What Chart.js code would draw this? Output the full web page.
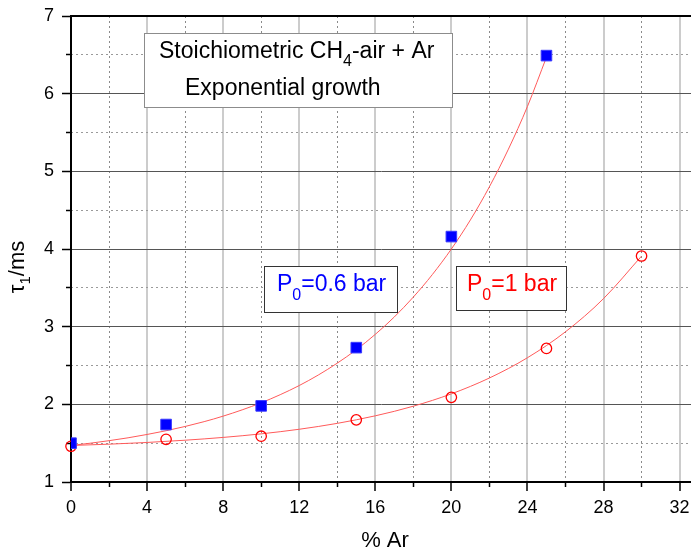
<!DOCTYPE html>
<html><head><meta charset="utf-8">
<script src="https://cdn.jsdelivr.net/npm/chart.js@4"></script>
<style>html,body{margin:0;padding:0;background:#fff}#wrap{width:691px;height:553px}</style>
</head><body><div id="wrap"><canvas id="c" width="691" height="553"></canvas></div>
<script>
// ---- data ----
const arPct06 = [0, 5, 10, 15, 20, 25];
const tau06 = [1.50, 1.74, 1.98, 2.73, 4.16, 6.49];
const arPct1 = [0, 5, 10, 15, 20, 25, 30];
const tau1 = [1.46, 1.55, 1.59, 1.80, 2.09, 2.72, 3.91];
// exponential-growth fit curves
const fitX06 = [0,1,2,3,4,5,6,7,8,9,10,11,12,13,14,15,16,17,18,19,20,21,22,23,24,25];
const fitY06 = [1.470,1.499,1.532,1.569,1.612,1.660,1.715,1.777,1.848,1.929,2.020,2.124,2.242,2.377,2.530,2.703,2.901,3.125,3.381,3.671,4.000,4.374,4.801,5.286,5.835,6.470];
const fitX1 = [0,2,4,6,8,10,12,14,16,18,20,22,24,26,28,30];
const fitY1 = [1.470,1.487,1.509,1.538,1.574,1.620,1.679,1.755,1.852,1.976,2.135,2.339,2.600,2.934,3.361,3.909];
// tick labels
const xTicks = [0, 4, 8, 12, 16, 20, 24, 28, 32];
const yTicks = [1, 2, 3, 4, 5, 6, 7];

const FONT = "'Liberation Sans', Arial, sans-serif";
const pts = (xs, ys) => xs.map((x, i) => ({x: x, y: ys[i]}));
const TR = 'rgba(0,0,0,0)';

function drawSubText(ctx, parts, x, y, size, subSize, subOff, color) {
  ctx.fillStyle = color;
  ctx.textBaseline = 'middle';
  ctx.textAlign = 'left';
  let cx = x;
  for (const [t, sub] of parts) {
    ctx.font = (sub ? subSize : size) + 'px ' + FONT;
    ctx.fillText(t, cx, sub ? y + subOff : y);
    cx += ctx.measureText(t).width;
  }
  return cx - x;
}
function measureParts(ctx, parts, size, subSize) {
  let w = 0;
  for (const [t, sub] of parts) { ctx.font = (sub ? subSize : size) + 'px ' + FONT; w += ctx.measureText(t).width; }
  return w;
}
const noPadH = s => { s.paddingLeft = 0; s.paddingRight = 0; };
const noPadV = s => { s.paddingTop = 0; s.paddingBottom = 0; };

const textPlugin = {
  id: 'texts',
  afterDraw(chart) {
    const ctx = chart.ctx;
    ctx.save();
    ctx.fillStyle = '#fff';
    ctx.fillRect(144.5, 33.5, 308, 74);
    ctx.strokeStyle = '#8c8c8c'; ctx.lineWidth = 1;
    ctx.strokeRect(144.5, 33.5, 308, 74);
    drawSubText(ctx, [['Stoichiometric CH', false], ['4', true], ['-air + Ar', false]], 159, 52, 23, 16, 10, '#000');
    drawSubText(ctx, [['Exponential growth', false]], 185, 89, 23, 16, 10, '#000');
    ctx.fillStyle = '#fff';
    ctx.fillRect(264.5, 266.5, 133, 46);
    ctx.strokeStyle = '#333'; ctx.strokeRect(264.5, 266.5, 133, 46);
    drawSubText(ctx, [['P', false], ['0', true], ['=0.6 bar', false]], 277, 285, 23, 16, 11, '#0000ff');
    ctx.fillStyle = '#fff';
    ctx.fillRect(456.5, 266.5, 110, 44);
    ctx.strokeStyle = '#333'; ctx.strokeRect(456.5, 266.5, 110, 44);
    drawSubText(ctx, [['P', false], ['0', true], ['=1 bar', false]], 467, 285, 23, 16, 11, '#ff0000');
    ctx.fillStyle = '#000';
    ctx.font = '22px ' + FONT;
    ctx.textAlign = 'center'; ctx.textBaseline = 'middle';
    ctx.fillText('% Ar', 385, 541);
    ctx.translate(18, 267);
    ctx.rotate(-Math.PI / 2);
    const yp = [['\u03C4', false], ['1', true], ['/ms', false]];
    const w = measureParts(ctx, yp, 22, 15);
    drawSubText(ctx, yp, -w / 2, 0, 22, 15, 8, '#000');
    ctx.restore();
  }
};

new Chart(document.getElementById('c'), {
  type: 'scatter',
  data: {
    datasets: [
      { label: 'P0=0.6 bar', data: pts(arPct06, tau06), pointStyle: 'rect', pointRadius: 7.5, pointHoverRadius: 7.5,
        backgroundColor: '#0000ff', borderColor: '#3a3aff', borderWidth: 1, showLine: false, xAxisID: 'x', yAxisID: 'y' },
      { label: 'P0=1 bar', data: pts(arPct1, tau1), pointStyle: 'circle', pointRadius: 5.2, pointHoverRadius: 5.2,
        backgroundColor: TR, borderColor: '#ff0000', borderWidth: 1.3, showLine: false, clip: false, xAxisID: 'x', yAxisID: 'y' },
      { label: 'fit 0.6', type: 'line', data: pts(fitX06, fitY06), borderColor: '#ff5a5a', borderWidth: 1, pointRadius: 0,
        cubicInterpolationMode: 'monotone', fill: false, xAxisID: 'x', yAxisID: 'y' },
      { label: 'fit 1', type: 'line', data: pts(fitX1, fitY1), borderColor: '#ff5a5a', borderWidth: 1, pointRadius: 0,
        cubicInterpolationMode: 'monotone', fill: false, xAxisID: 'x', yAxisID: 'y' }
    ]
  },
  options: {
    responsive: false, animation: false, devicePixelRatio: 1,
    layout: { autoPadding: false, padding: { top: 16, right: 0, bottom: 0, left: 0 } },
    plugins: { legend: { display: false }, tooltip: { enabled: false } },
    scales: {
      x: { type: 'linear', position: 'bottom', min: 0, max: 32.6, weight: 10,
        ticks: { stepSize: 4, includeBounds: false, padding: 6, color: '#000', font: { family: FONT, size: 18 },
          callback: v => xTicks.includes(v) ? String(v) : '' },
        grid: { color: '#cccccc', lineWidth: 2, tickLength: 9, tickColor: '#000', tickWidth: 1.5 },
        border: { color: '#000', width: 2 },
        afterFit: s => { s.height = 71; noPadH(s); } },
      xm: { type: 'linear', position: 'bottom', min: 0, max: 32.6, weight: 0,
        ticks: { display: false, stepSize: 2, includeBounds: false },
        grid: { color: c => (c.tick && c.tick.value % 4 === 0) ? TR : '#8a8a8a', lineWidth: 1, tickLength: 5,
          tickColor: c => (c.tick && c.tick.value % 4 === 0) ? TR : '#000', tickWidth: 1.5 },
        border: { display: false, dash: [2, 3] },
        afterFit: s => { s.height = 0; noPadH(s); } },
      xt: { type: 'linear', position: 'top', min: 0, max: 32.6,
        ticks: { display: false },
        grid: { drawOnChartArea: false, drawTicks: false },
        border: { color: '#000', width: 2 },
        afterFit: s => { s.height = 0; noPadH(s); } },
      y: { type: 'linear', position: 'left', min: 1, max: 7, weight: 10,
        ticks: { stepSize: 1, padding: 8, color: '#000', font: { family: FONT, size: 18 },
          callback: v => yTicks.includes(v) ? String(v) : '' },
        grid: { color: '#555555', lineWidth: 1, tickLength: 9, tickColor: '#000', tickWidth: 1.5 },
        border: { color: '#000', width: 2 },
        afterFit: s => { s.width = 71; noPadV(s); } },
      ym: { type: 'linear', position: 'left', min: 1, max: 7, weight: 0,
        ticks: { display: false, stepSize: 0.5 },
        grid: { color: c => (c.tick && Number.isInteger(c.tick.value)) ? TR : '#9a9a9a', lineWidth: 1, tickLength: 5,
          tickColor: c => (c.tick && Number.isInteger(c.tick.value)) ? TR : '#000', tickWidth: 1.5 },
        border: { display: false, dash: [2, 3] },
        afterFit: s => { s.width = 0; noPadV(s); } }
    }
  },
  plugins: [textPlugin]
});
</script></body></html>
